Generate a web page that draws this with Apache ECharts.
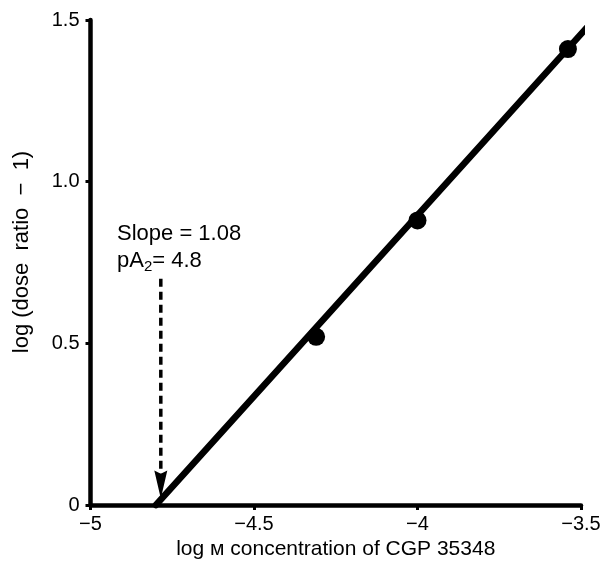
<!DOCTYPE html>
<html>
<head>
<meta charset="utf-8">
<script src="https://cdn.jsdelivr.net/npm/echarts@6/dist/echarts.min.js"></script>
<style>
html,body{margin:0;padding:0;background:#fff;}
#chart{width:603px;height:563px;}
</style>
</head>
<body>
<div id="chart"></div>
<script>
// ---- data ----
var xTickLabels = ['\u22125', '\u22124.5', '\u22124', '\u22123.5'];
var yTickLabels = ['0', '0.5', '1.0', '1.5'];
var xName = 'log \u043c concentration of CGP 35348';
var yName = 'log (dose  ratio  \u2212  1)';
var pointsX = [-4.31, -4.0, -3.54];
var pointsY = [0.52, 0.88, 1.41];
var fitX = [-4.8, -3.47];
var fitY = [0, 1.49];
var arrowX = [-4.785, -4.785];
var arrowY = [0.70, 0.08];
var arrowTipY = 0.02;
var slopeText = 'Slope = 1.08';
var pA2Value = '4.8';

var FONT = '"Liberation Sans", Arial, Helvetica, sans-serif';
function zip(a, b) { return a.map(function (v, i) { return [v, b[i]]; }); }

var chart = echarts.init(document.getElementById('chart'), null, {renderer: 'canvas'});
var xMin = -5, yMin = 0, step = 0.5;
chart.setOption({
  backgroundColor: '#fff',
  animation: false,
  grid: {left: 90.5, right: 22, top: 20, bottom: 58, outerBoundsMode: 'none', containLabel: false},
  xAxis: {
    type: 'value', min: xMin, max: -3.5, interval: step,
    name: xName, nameLocation: 'middle', nameGap: 34,
    nameTextStyle: {fontFamily: FONT, fontSize: 21, color: '#000'},
    axisLine: {lineStyle: {color: '#000', width: 4.5}},
    axisTick: {show: true, length: 5, lineStyle: {color: '#000', width: 3}},
    axisLabel: {fontFamily: FONT, fontSize: 20, color: '#000', margin: 9,
      formatter: function (v) { return xTickLabels[Math.round((v - xMin) / step)]; }},
    splitLine: {show: false}
  },
  yAxis: {
    type: 'value', min: yMin, max: 1.5, interval: step,
    axisLine: {show: true, lineStyle: {color: '#000', width: 4.5}},
    axisTick: {show: true, length: 5, lineStyle: {color: '#000', width: 3}},
    axisLabel: {fontFamily: FONT, fontSize: 20, color: '#000', margin: 11,
      formatter: function (v) { return yTickLabels[Math.round((v - yMin) / step)]; }},
    splitLine: {show: false}
  },
  graphic: [
    {type: 'text', x: 22, y: 252, rotation: Math.PI / 2,
      style: {text: yName, font: '22px ' + FONT, fill: '#000', align: 'center', verticalAlign: 'middle'}},
    {type: 'text', left: 117, top: 223, style: {text: slopeText, font: '22px ' + FONT, fill: '#000'}},
    {type: 'text', left: 117, top: 250, style: {
      text: 'pA{sub|2}= ' + pA2Value, font: '22px ' + FONT, fill: '#000',
      rich: {sub: {fontSize: 15, fontFamily: FONT, padding: [12, 0, 0, 0], fill: '#000'}}
    }}
  ],
  series: [
    {type: 'line', data: zip(fitX, fitY), showSymbol: false, symbol: 'none', clip: false,
      lineStyle: {color: '#000', width: 6.5, cap: 'round'}, z: 3},
    {type: 'line', data: zip(arrowX, arrowY), showSymbol: false, symbol: 'none', clip: false,
      lineStyle: {color: '#000', width: 3.5, type: [8, 5]}, z: 3},
    {type: 'scatter', data: [[arrowX[1], arrowTipY]], symbol: 'path://M0,0 L6,3 L12,0 L6,26 Z',
      symbolSize: [13, 28], symbolOffset: [0, -14], itemStyle: {color: '#000', opacity: 1}, z: 4, clip: false},
    {type: 'scatter', data: zip(pointsX, pointsY), symbol: 'circle', symbolSize: 18,
      itemStyle: {color: '#000', opacity: 1}, z: 5}
  ]
});
</script>
</body>
</html>
